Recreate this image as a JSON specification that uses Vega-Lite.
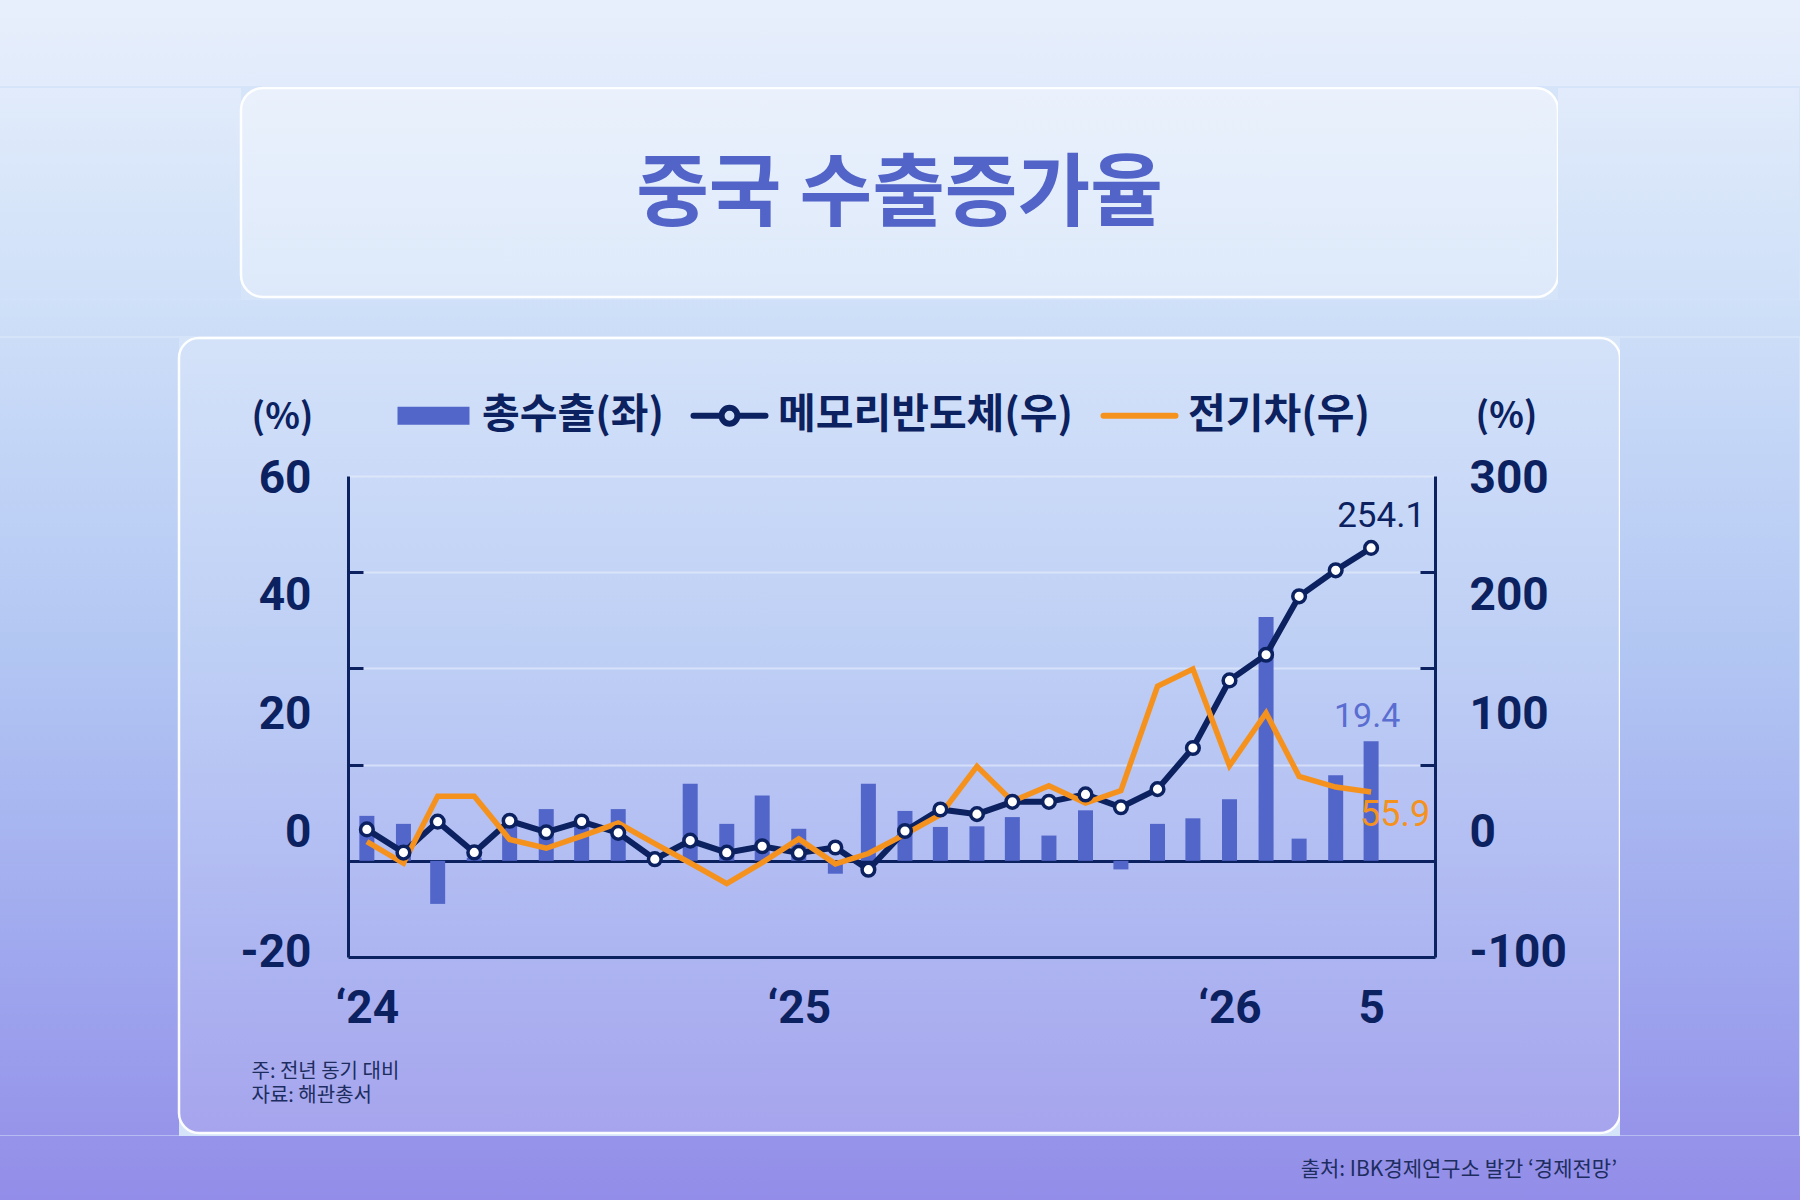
{
  "$schema": "https://vega.github.io/schema/vega-lite/v6.json",
  "padding": 0,
  "background": "#d6e4f9",
  "spacing": 0,
  "bounds": "full",
  "resolve": {"scale": {"color": "independent"}, "legend": {"color": "independent"}},
  "config": {
    "view": {"stroke": null},
    "font": "Noto Sans CJK KR",
    "axis": {"labelOverlap": false, "labelFlush": false}
  },
  "vconcat": [
    {
      "width": 1800, "height": 86,
      "view": {"stroke": null, "fill": {"gradient": "linear", "x1": 0, "y1": 0, "x2": 0, "y2": 1, "stops": [{"offset": 0, "color": "#e8effc"}, {"offset": 1, "color": "#e1ebfb"}]}},
      "data": {"values": [{}]},
      "mark": {"type": "point", "opacity": 0}
    },
    {
      "spacing": 0,
      "bounds": "flush",
      "hconcat": [
        {
          "width": 241, "height": 211.5,
          "view": {"stroke": null, "fill": {"gradient": "linear", "x1": 0, "y1": 0, "x2": 0, "y2": 1, "stops": [{"offset": 0, "color": "#e1ebfb"}, {"offset": 1, "color": "#cfe0f8"}]}},
          "data": {"values": [{}]},
          "mark": {"type": "point", "opacity": 0}
        },
        {
          "width": 1317, "height": 209,
          "view": {"stroke": "#ffffff", "strokeWidth": 2.5, "strokeOpacity": 0.95, "cornerRadius": 22,
                   "fill": {"gradient": "linear", "x1": 0, "y1": 0, "x2": 0, "y2": 1, "stops": [{"offset": 0, "color": "#eaf1fc"}, {"offset": 1, "color": "#dde9fa"}]}},
          "data": {"values": [{}]},
          "mark": {"type": "point", "opacity": 0},
          "title": {
            "text": "중국 수출증가율",
            "orient": "top", "anchor": "middle", "frame": "group",
            "offset": -187, "baseline": "middle",
            "font": "Noto Sans CJK KR", "fontSize": 79, "fontWeight": "bold", "color": "#5264c8"
          }
        },
        {
          "width": 241, "height": 211.5,
          "view": {"stroke": null, "fill": {"gradient": "linear", "x1": 0, "y1": 0, "x2": 0, "y2": 1, "stops": [{"offset": 0, "color": "#e1ebfb"}, {"offset": 1, "color": "#cfe0f8"}]}},
          "data": {"values": [{}]},
          "mark": {"type": "point", "opacity": 0}
        }
      ]
    },
    {
      "width": 1800, "height": 36,
      "view": {"stroke": null, "fill": {"gradient": "linear", "x1": 0, "y1": 0, "x2": 0, "y2": 1, "stops": [{"offset": 0, "color": "#cfe0f8"}, {"offset": 1, "color": "#ccddf8"}]}},
      "data": {"values": [{}]},
      "mark": {"type": "point", "opacity": 0}
    },
    {
      "spacing": 0,
      "bounds": "flush",
      "resolve": {"scale": {"color": "independent"}, "legend": {"color": "independent"}},
      "hconcat": [
        {
          "width": 179, "height": 797.5,
          "view": {"stroke": null, "fill": {"gradient": "linear", "x1": 0, "y1": 0, "x2": 0, "y2": 1, "stops": [{"offset": 0, "color": "#ccddf8"}, {"offset": 0.396, "color": "#b2c6f3"}, {"offset": 0.774, "color": "#9fa8ee"}, {"offset": 1, "color": "#9694ea"}]}},
          "data": {"values": [{}]},
          "mark": {"type": "point", "opacity": 0}
        },
        {
          "width": 1441,
          "height": 795,
          "view": {"stroke": "#ffffff", "strokeWidth": 2.5, "strokeOpacity": 0.95, "cornerRadius": 20,
                   "fill": {"gradient": "linear", "x1": 0, "y1": 0, "x2": 0, "y2": 1, "stops": [{"offset": 0, "color": "#d4e2f9"}, {"offset": 0.396, "color": "#becff5"}, {"offset": 0.774, "color": "#adb5f1"}, {"offset": 1, "color": "#a6a4ed"}]}},
          "data": {
            "values": [
              {"date": "2024-01-01", "total": 7.3, "memory": 25.5, "ev": 15.6},
              {"date": "2024-02-01", "total": 6.0, "memory": 6.7, "ev": -2.0},
              {"date": "2024-03-01", "total": -7.0, "memory": 31.8, "ev": 52.5},
              {"date": "2024-04-01", "total": 0.5, "memory": 6.8, "ev": 52.5},
              {"date": "2024-05-01", "total": 6.0, "memory": 32.5, "ev": 17.3},
              {"date": "2024-06-01", "total": 8.4, "memory": 23.2, "ev": 10.2},
              {"date": "2024-07-01", "total": 6.5, "memory": 31.9, "ev": 20.0},
              {"date": "2024-08-01", "total": 8.4, "memory": 22.7, "ev": 30.6},
              {"date": "2024-09-01", "total": 0.3, "memory": 1.3, "ev": 14.0},
              {"date": "2024-10-01", "total": 12.5, "memory": 16.4, "ev": -1.8},
              {"date": "2024-11-01", "total": 6.0, "memory": 6.6, "ev": -18.5},
              {"date": "2024-12-01", "total": 10.6, "memory": 11.8, "ev": -1.5},
              {"date": "2025-01-01", "total": 5.2, "memory": 6.4, "ev": 17.8},
              {"date": "2025-02-01", "total": -2.1, "memory": 10.8, "ev": -2.5},
              {"date": "2025-03-01", "total": 12.5, "memory": -7.2, "ev": 5.9},
              {"date": "2025-04-01", "total": 8.1, "memory": 24.2, "ev": 21.5},
              {"date": "2025-05-01", "total": 5.5, "memory": 41.7, "ev": 37.4},
              {"date": "2025-06-01", "total": 5.6, "memory": 37.9, "ev": 76.7},
              {"date": "2025-07-01", "total": 7.1, "memory": 47.9, "ev": 48.3},
              {"date": "2025-08-01", "total": 4.1, "memory": 47.9, "ev": 60.9},
              {"date": "2025-09-01", "total": 8.2, "memory": 53.9, "ev": 46.9},
              {"date": "2025-10-01", "total": -1.4, "memory": 43.5, "ev": 57.0},
              {"date": "2025-11-01", "total": 6.0, "memory": 58.2, "ev": 141.7},
              {"date": "2025-12-01", "total": 6.9, "memory": 91.6, "ev": 155.7},
              {"date": "2026-01-01", "total": 10.0, "memory": 146.5, "ev": 77.2},
              {"date": "2026-02-01", "total": 39.6, "memory": 167.3, "ev": 120.0},
              {"date": "2026-03-01", "total": 3.6, "memory": 214.8, "ev": 68.6},
              {"date": "2026-04-01", "total": 13.9, "memory": 235.9, "ev": 59.9},
              {"date": "2026-05-01", "total": 19.4, "memory": 254.1, "ev": 55.9}
            ]
          },
          "layer": [
            {
              "layer": [
                {
                  "mark": {"type": "bar", "width": 15},
                  "encoding": {
                    "x": {
                      "field": "date", "type": "temporal",
                      "scale": {
                        "nice": false,
                        "range": [169, 1256],
                        "domain": [
                          {"year": 2023, "month": 12, "date": 20, "hours": 6, "utc": true},
                          {"year": 2026, "month": 6, "date": 19, "hours": 22, "utc": true}
                        ]
                      },
                      "axis": {
                        "offset": -176,
                        "title": ["주: 전년 동기 대비", "자료: 해관총서"],
                        "titleX": 72, "titleY": 104, "titleAngle": 0,
                        "titleAlign": "left", "titleBaseline": "top",
                        "titleFont": "Noto Sans CJK KR", "titleFontSize": 20, "titleFontWeight": "normal",
                        "titleLineHeight": 24, "titleColor": "#1d2d60",
                        "values": [
                          {"year": 2024, "month": 1, "date": 1, "utc": true},
                          {"year": 2025, "month": 1, "date": 1, "utc": true},
                          {"year": 2026, "month": 1, "date": 1, "utc": true},
                          {"year": 2026, "month": 5, "date": 1, "utc": true}
                        ],
                        "labelExpr": "utcmonth(datum.value) == 0 ? '‘' + utcFormat(datum.value, '%y') : utcFormat(datum.value, '%-m')",
                        "ticks": false, "tickSize": 0, "grid": false,
                        "domain": true, "domainColor": "#0b2160", "domainWidth": 3,
                        "labelFont": "Liberation Sans Narrow, Roboto, sans-serif",
                        "labelFontSize": 46, "labelFontWeight": "bold", "labelColor": "#0b2160",
                        "labelPadding": 51, "labelBaseline": "middle", "labelAlign": "center"
                      }
                    },
                    "y": {
                      "field": "total", "type": "quantitative",
                      "scale": {"domain": [-15.625, 62.5], "range": [619, 138], "nice": false, "zero": false},
                      "axis": {
                        "offset": -169,
                        "title": "(%)", "titleAngle": 0, "titleX": -66, "titleY": 79.5,
                        "titleAlign": "center", "titleBaseline": "middle",
                        "titleFont": "Noto Sans CJK KR", "titleFontSize": 36, "titleFontWeight": "bold", "titleColor": "#0b2160",
                        "values": [62.5, 46.875, 31.25, 15.625, 0, -15.625],
                        "labelExpr": "datum.value == 62.5 ? '60' : datum.value == 46.875 ? '40' : datum.value == 31.25 ? '20' : datum.value == 15.625 ? '0' : datum.value == -15.625 ? '-20' : ''",
                        "labelOffset": {
                          "condition": [
                            {"test": "datum.value == 62.5", "value": 2},
                            {"test": "datum.value == 46.875", "value": 23},
                            {"test": "datum.value == 31.25", "value": 46},
                            {"test": "datum.value == 15.625", "value": 68},
                            {"test": "datum.value == -15.625", "value": -5}
                          ],
                          "value": 0
                        },
                        "labelFont": "Liberation Sans Narrow, Roboto, sans-serif",
                        "labelFontSize": 46, "labelFontWeight": "bold", "labelColor": "#0b2160",
                        "labelPadding": 52, "labelAlign": "right", "labelBaseline": "middle",
                        "ticks": true, "tickSize": -15, "tickWidth": 3, "tickColor": "#0b2160",
                        "tickOpacity": {"condition": {"test": "datum.value == 62.5 || datum.value == -15.625", "value": 0}, "value": 1},
                        "domain": true, "domainColor": "#0b2160", "domainWidth": 3,
                        "grid": true,
                        "gridColor": {"condition": {"test": "datum.value == 0", "value": "#0b2160"}, "value": "#e8eefc"},
                        "gridWidth": {"condition": {"test": "datum.value == 0", "value": 3}, "value": 2},
                        "gridOpacity": {"condition": [{"test": "datum.value == 0", "value": 1}, {"test": "datum.value < 0", "value": 0}], "value": 0.6}
                      }
                    },
                    "color": {
                      "datum": "총수출(좌)",
                      "scale": {
                        "domain": ["총수출(좌)", "메모리반도체(우)", "전기차(우)"],
                        "range": ["#5266c9", "#0b2160", "#f5921e"]
                      },
                      "legend": {
                        "orient": "none", "legendX": 234, "legendY": 57,
                        "direction": "horizontal", "title": null, "padding": 0,
                        "symbolSize": 5184, "symbolType": "M-1,-0.25H1V0.25H-1Z",
                        "symbolStrokeWidth": 6,
                        "labelFont": "Noto Sans CJK KR", "labelFontSize": 41, "labelFontWeight": "bold",
                        "labelColor": "#0b2160", "labelOffset": 28, "columnPadding": 17, "labelLimit": 0,
                        "encode": {
                          "symbols": {
                            "update": {
                              "shape": {"signal": "datum.value == '총수출(좌)' ? 'M-1,-0.25H1V0.25H-1Z' : datum.value == '메모리반도체(우)' ? 'M-1,0H-0.22M0.22,0H1M0.22,0A0.22,0.22 0 1 1 -0.22,0A0.22,0.22 0 1 1 0.22,0Z' : 'M-1,0H1'"},
                              "fillOpacity": {"signal": "datum.value == '메모리반도체(우)' ? 0 : 1"},
                              "strokeWidth": {"signal": "datum.value == '총수출(좌)' ? 0 : 6"},
                              "strokeCap": {"value": "round"},
                              "opacity": {"value": 1}
                            }
                          }
                        }
                      }
                    }
                  }
                },
                {
                  "transform": [{"filter": "time(datum.date) == utc(2026, 4, 1)"}],
                  "mark": {"type": "text", "font": "Liberation Sans Narrow, Roboto, sans-serif", "fontSize": 34, "color": "#5a6dd0", "dx": -4, "dy": -24, "baseline": "middle", "align": "center"},
                  "encoding": {
                    "x": {"field": "date", "type": "temporal"},
                    "y": {"field": "total", "type": "quantitative", "title": "(%)", "scale": {"domain": [-15.625, 62.5], "range": [619, 138], "nice": false, "zero": false}},
                    "text": {"field": "total", "type": "quantitative", "format": ".1f"}
                  }
                }
              ]
            },
            {
              "layer": [
                {
                  "mark": {"type": "line", "strokeWidth": 6},
                  "encoding": {
                    "x": {"field": "date", "type": "temporal"},
                    "y": {
                      "field": "memory", "type": "quantitative",
                      "scale": {"domain": [-78.125, 312.5], "range": [619, 138], "nice": false, "zero": false},
                      "axis": {
                        "orient": "right",
                        "offset": -185,
                        "title": "(%)", "titleAngle": 0, "titleX": 71, "titleY": 78,
                        "titleAlign": "center", "titleBaseline": "middle",
                        "titleFont": "Noto Sans CJK KR", "titleFontSize": 36, "titleFontWeight": "bold", "titleColor": "#0b2160",
                        "values": [312.5, 234.375, 156.25, 78.125, 0, -78.125],
                        "labelExpr": "datum.value == 312.5 ? '300' : datum.value == 234.375 ? '200' : datum.value == 156.25 ? '100' : datum.value == 78.125 ? '0' : datum.value == -78.125 ? '-100' : ''",
                        "labelOffset": {
                          "condition": [
                            {"test": "datum.value == 312.5", "value": 2},
                            {"test": "datum.value == 234.375", "value": 23},
                            {"test": "datum.value == 156.25", "value": 46},
                            {"test": "datum.value == 78.125", "value": 68},
                            {"test": "datum.value == -78.125", "value": -5}
                          ],
                          "value": 0
                        },
                        "labelFont": "Liberation Sans Narrow, Roboto, sans-serif",
                        "labelFontSize": 46, "labelFontWeight": "bold", "labelColor": "#0b2160",
                        "labelPadding": 49, "labelAlign": "left", "labelBaseline": "middle",
                        "ticks": true, "tickSize": -15, "tickWidth": 3, "tickColor": "#0b2160",
                        "tickOpacity": {"condition": {"test": "datum.value == 312.5 || datum.value == -78.125", "value": 0}, "value": 1},
                        "domain": true, "domainColor": "#0b2160", "domainWidth": 3,
                        "grid": false
                      }
                    },
                    "color": {"datum": "메모리반도체(우)"}
                  }
                },
                {
                  "mark": {"type": "line", "strokeWidth": 5.5},
                  "encoding": {
                    "x": {"field": "date", "type": "temporal"},
                    "y": {"field": "ev", "type": "quantitative", "title": "(%)", "scale": {"domain": [-78.125, 312.5], "range": [619, 138], "nice": false, "zero": false}},
                    "color": {"datum": "전기차(우)"}
                  }
                },
                {
                  "mark": {"type": "point", "filled": true, "fill": "#ffffff", "stroke": "#0b2160", "strokeWidth": 3.5, "size": 160, "opacity": 1},
                  "encoding": {
                    "x": {"field": "date", "type": "temporal"},
                    "y": {"field": "memory", "type": "quantitative", "title": "(%)", "scale": {"domain": [-78.125, 312.5], "range": [619, 138], "nice": false, "zero": false}}
                  }
                },
                {
                  "transform": [{"filter": "time(datum.date) == utc(2026, 4, 1)"}],
                  "mark": {"type": "text", "font": "Liberation Sans Narrow, Roboto, sans-serif", "fontSize": 35, "color": "#0b2160", "dx": 10, "dy": -32, "baseline": "middle", "align": "center"},
                  "encoding": {
                    "x": {"field": "date", "type": "temporal"},
                    "y": {"field": "memory", "type": "quantitative", "title": "(%)", "scale": {"domain": [-78.125, 312.5], "range": [619, 138], "nice": false, "zero": false}},
                    "text": {"field": "memory", "type": "quantitative", "format": ".1f"}
                  }
                },
                {
                  "transform": [{"filter": "time(datum.date) == utc(2026, 4, 1)"}],
                  "mark": {"type": "text", "font": "Liberation Sans Narrow, Roboto, sans-serif", "fontSize": 36, "color": "#f5921e", "dx": 24, "dy": 23, "baseline": "middle", "align": "center"},
                  "encoding": {
                    "x": {"field": "date", "type": "temporal"},
                    "y": {"field": "ev", "type": "quantitative", "title": "(%)", "scale": {"domain": [-78.125, 312.5], "range": [619, 138], "nice": false, "zero": false}},
                    "text": {"field": "ev", "type": "quantitative", "format": ".1f"}
                  }
                }
              ]
            }
          ],
          "resolve": {"scale": {"y": "independent"}}
        },
        {
          "width": 179, "height": 797.5,
          "view": {"stroke": null, "fill": {"gradient": "linear", "x1": 0, "y1": 0, "x2": 0, "y2": 1, "stops": [{"offset": 0, "color": "#ccddf8"}, {"offset": 0.396, "color": "#b2c6f3"}, {"offset": 0.774, "color": "#9fa8ee"}, {"offset": 1, "color": "#9694ea"}]}},
          "data": {"values": [{}]},
          "mark": {"type": "point", "opacity": 0}
        }
      ]
    },
    {
      "width": 1800, "height": 72,
      "view": {"stroke": null, "fill": {"gradient": "linear", "x1": 0, "y1": 0, "x2": 0, "y2": 1, "stops": [{"offset": 0, "color": "#9694ea"}, {"offset": 1, "color": "#928ce8"}]}},
      "data": {"values": [{}]},
      "mark": {"type": "point", "opacity": 0},
      "title": {
        "text": "출처: IBK경제연구소 발간 ‘경제전망’",
        "orient": "top", "anchor": "end", "frame": "group",
        "offset": -44, "dx": -183, "baseline": "top",
        "font": "Noto Sans CJK KR", "fontSize": 21, "fontWeight": "normal", "color": "#1d2d60"
      }
    }
  ]
}
